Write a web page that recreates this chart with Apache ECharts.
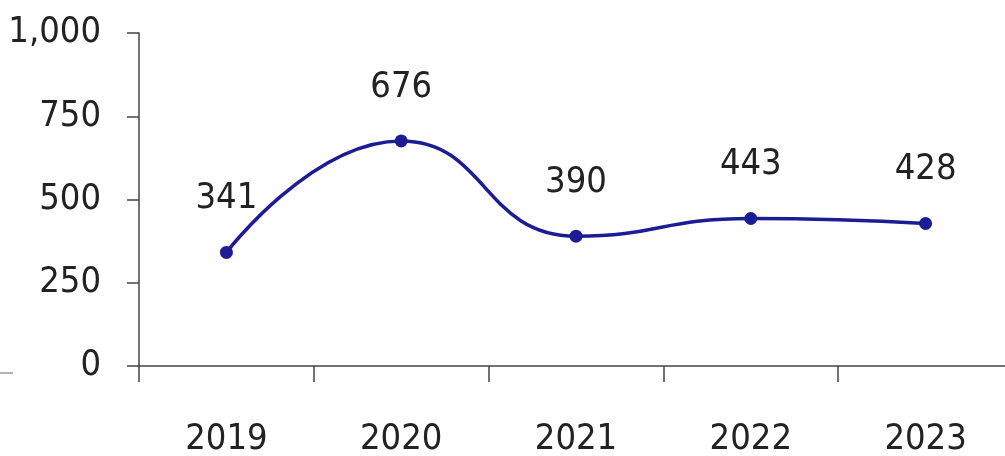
<!DOCTYPE html>
<html>
<head>
<meta charset="utf-8">
<script src="https://cdn.jsdelivr.net/npm/echarts@6/dist/echarts.min.js"></script>
<style>
html,body{margin:0;padding:0;background:#fff;}
#c{width:1005px;height:456px;}
</style>
</head>
<body>
<div id="c"></div>
<script>
var categories = ['2019', '2020', '2021', '2022', '2023'];
var values = [341, 676, 390, 443, 428];
var yTicks = [0, 250, 500, 750, 1000];

var FONT = '"DejaVu Sans Condensed", "Liberation Sans Narrow", "Noto Sans", sans-serif';
var chart = echarts.init(document.getElementById('c'), null, {renderer: 'canvas'});
chart.setOption({
  animation: false,
  backgroundColor: '#ffffff',
  grid: {left: 139, right: -8, top: 33, bottom: 90, containLabel: false, outerBoundsMode: 'none'},
  xAxis: {
    type: 'category',
    data: categories,
    boundaryGap: true,
    axisLine: {show: true, lineStyle: {color: '#444', width: 1.5}},
    axisTick: {show: true, inside: false, length: 16, alignWithLabel: false, lineStyle: {color: '#444', width: 1.5}},
    axisLabel: {color: '#222', fontFamily: FONT, fontSize: 36, margin: 56}
  },
  yAxis: {
    type: 'value',
    min: yTicks[0],
    max: yTicks[yTicks.length - 1],
    interval: 250,
    splitLine: {show: false},
    axisLine: {show: true, lineStyle: {color: '#444', width: 1.5}},
    axisTick: {show: true, inside: false, length: 12, lineStyle: {color: '#444', width: 1.5}},
    axisLabel: {
      color: '#222', fontFamily: FONT, fontSize: 36, margin: 38,
      formatter: function (v) { return v.toLocaleString('en-US'); }
    }
  },
  graphic: [{
    type: 'line',
    shape: {x1: 0, y1: 373, x2: 13, y2: 373},
    style: {stroke: '#999', lineWidth: 1.5}
  }],
  series: [{
    type: 'line',
    data: values,
    smooth: 0.5,
    symbol: 'circle',
    symbolSize: 13,
    lineStyle: {color: '#1c1c94', width: 3.5},
    itemStyle: {color: '#1c1c94'},
    label: {
      show: true,
      position: 'top',
      distance: 29,
      color: '#222',
      fontFamily: FONT,
      fontSize: 36
    }
  }]
});
</script>
</body>
</html>
